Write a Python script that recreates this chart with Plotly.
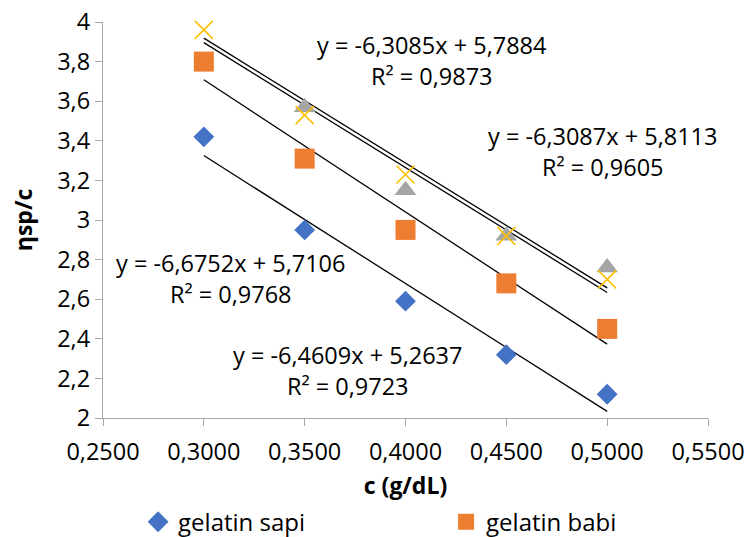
import plotly.graph_objects as go

# ---- data ----
conc = [0.30, 0.35, 0.40, 0.45, 0.50]
sapi = [3.42, 2.95, 2.59, 2.32, 2.12]
babi = [3.80, 3.31, 2.95, 2.68, 2.45]
seri3 = [4.03, 3.57, 3.15, 2.92, 2.76]
seri4 = [3.96, 3.53, 3.23, 2.92, 2.70]

series_names = ["gelatin sapi", "gelatin babi", "seri 3", "seri 4"]
series_values = [sapi, babi, seri3, seri4]
series_colors = ["#4472C4", "#ED7D31", "#A5A5A5", "#FFC000"]
series_symbols = ["diamond", "square", "triangle-up", "x-thin"]
series_sizes = [16, 20, 19, 18]
series_legend = [True, True, False, False]

slopes = [-6.4609, -6.6752, -6.3087, -6.3085]
intercepts = [5.2637, 5.7106, 5.8113, 5.7884]
r2_values = ["0,9723", "0,9768", "0,9605", "0,9873"]
eq_texts = ["y = -6,4609x + 5,2637", "y = -6,6752x + 5,7106",
            "y = -6,3087x + 5,8113", "y = -6,3085x + 5,7884"]
eq_pos = [(0.371, 2.242), (0.313, 2.707), (0.4979, 3.348), (0.4131, 3.808)]

FONT = "Open Sans"
FS = 23.5

fig = go.Figure()

# trendlines
for m, b in zip(slopes, intercepts):
    xs = [conc[0], conc[-1]]
    fig.add_trace(go.Scatter(x=xs, y=[m * x + b for x in xs], mode="lines",
                             line=dict(color="black", width=1.3),
                             showlegend=False, hoverinfo="skip"))

for i, (name, vals, col, sym, sz, sl) in enumerate(zip(series_names, series_values, series_colors,
                                                       series_symbols, series_sizes, series_legend)):
    marker = dict(color=col, symbol=sym, size=sz)
    if sym == "x-thin":
        marker["line"] = dict(color=col, width=1.6)
    kw = {}
    if i == 0:
        kw["legendwidth"] = 263
    fig.add_trace(go.Scatter(x=conc, y=vals, mode="markers", name=name,
                             marker=marker, showlegend=sl,
                             cliponaxis=(sym != "x-thin"), **kw))

for txt, r2, (px, py) in zip(eq_texts, r2_values, eq_pos):
    fig.add_annotation(x=px, y=py, xref="x", yref="y",
                       text=f"{txt}<br>R² = {r2}", showarrow=False,
                       font=dict(family=FONT, size=FS, color="black"),
                       align="center")

axis_common = dict(showgrid=False, zeroline=False, showline=True,
                   linecolor="#A6A6A6", linewidth=1.3, ticks="outside",
                   tickcolor="#A6A6A6", ticklen=7, tickwidth=1.3,
                   tickfont=dict(family=FONT, size=FS, color="black"))

fig.update_layout(
    width=748, height=537,
    margin=dict(l=103, r=40, t=22, b=119, autoexpand=False),
    paper_bgcolor="white", plot_bgcolor="white",
    separators=", ",
    xaxis=dict(range=[0.25, 0.55], tickvals=[0.25, 0.30, 0.35, 0.40, 0.45, 0.50, 0.55],
               tickformat=".4f", ticklabelstandoff=6,
               title=dict(text="<b>c (g/dL)</b>", font=dict(family=FONT, size=23, color="black"),
                          standoff=11),
               **axis_common),
    yaxis=dict(range=[2, 4], dtick=0.2,
               title=dict(text="<b>ηsp/c</b>", font=dict(family=FONT, size=23, color="black"),
                          standoff=18),
               **axis_common),
    legend=dict(orientation="h", x=0.058, xanchor="left", y=-0.263, yanchor="middle",
                font=dict(family=FONT, size=24, color="black"),
                itemwidth=30, bgcolor="rgba(0,0,0,0)"),
    showlegend=True,
)

fig.write_html("out.html", config={"displayModeBar": False},
               post_script="document.body.style.margin='0';")
